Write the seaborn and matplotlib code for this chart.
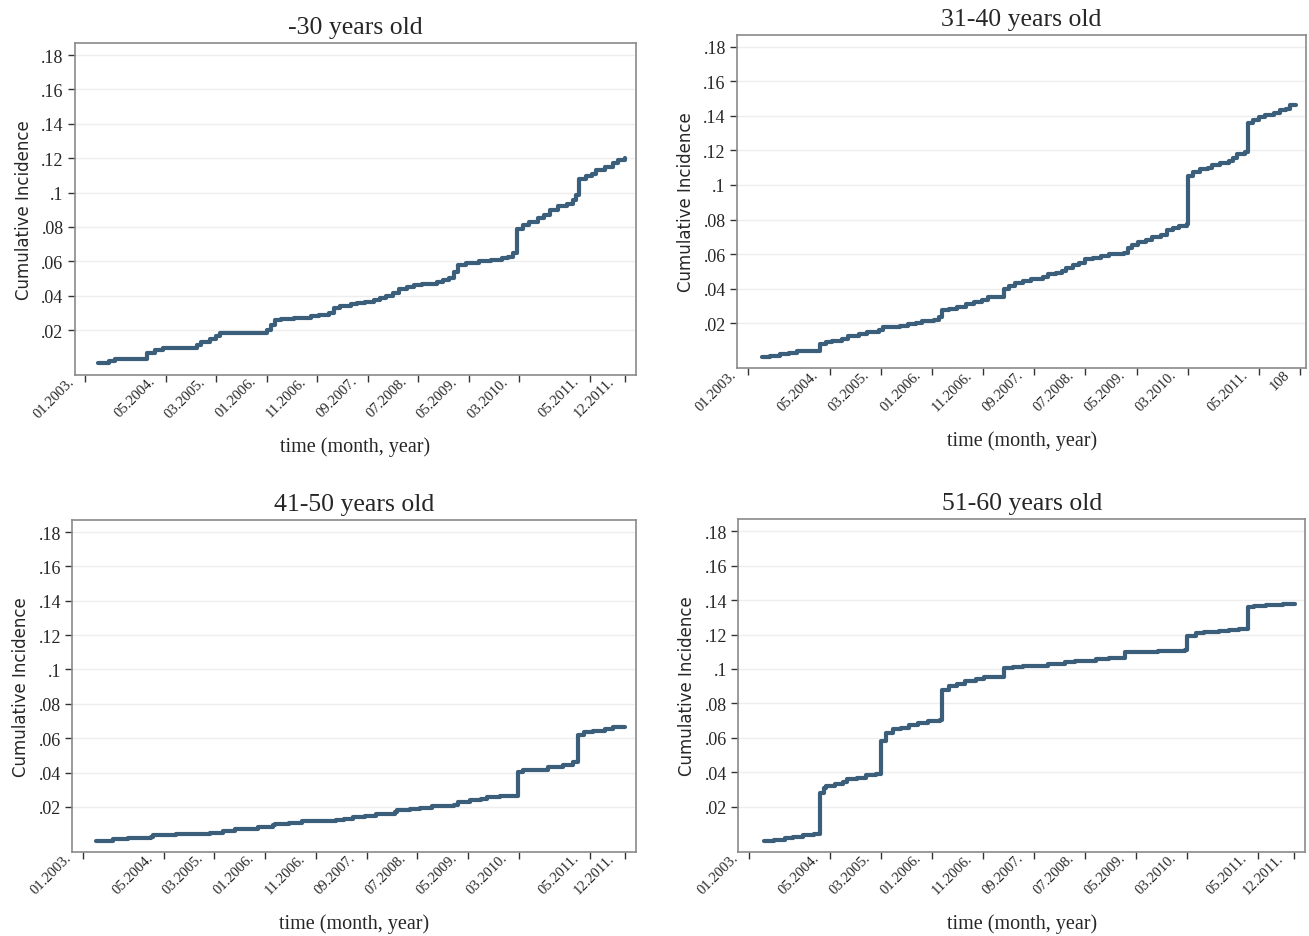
import matplotlib
matplotlib.use("Agg")
import matplotlib.pyplot as plt
import matplotlib.transforms as mtransforms
import seaborn as sns
import pandas as pd
import numpy as np

# months since 01.2003
tick_months = [0, 16, 26, 36, 46, 56, 66, 76, 86, 100, 107]
tick_labels = ["01.2003.", "05.2004.", "03.2005.", "01.2006.", "11.2006.", "09.2007.",
               "07.2008.", "05.2009.", "03.2010.", "05.2011.", "12.2011."]
tick_months_b = [0, 16, 26, 36, 46, 56, 66, 76, 86, 100, 108]
tick_labels_b = ["01.2003.", "05.2004.", "03.2005.", "01.2006.", "11.2006.", "09.2007.",
                 "07.2008.", "05.2009.", "03.2010.", "05.2011.", "108"]
y_ticks = [0.02, 0.04, 0.06, 0.08, 0.10, 0.12, 0.14, 0.16, 0.18]
y_labels = [".02", ".04", ".06", ".08", ".1", ".12", ".14", ".16", ".18"]

# -30 years old
t_30 = [2.6, 4.7, 5.9, 8.0, 12.2, 13.8, 15.5, 21.3, 22.2, 23.0, 24.7, 25.9, 26.75,
        33.8, 36.0, 36.75, 37.6, 38.8, 41.3, 44.7, 46.3, 48.4, 49.25, 50.5, 52.6, 53.8,
        55.5, 57.2, 58.4, 59.7, 61.0, 62.2, 63.8, 65.1, 66.75, 69.7, 70.9, 72.2, 73.0,
        73.8, 75.5, 78.0, 80.5, 82.6, 83.8, 84.7, 85.5, 86.75, 88.0, 89.7, 90.9, 92.2,
        93.8, 95.5, 96.75, 97.2, 97.8, 99.25, 100.5, 101.3, 103.0, 104.7, 105.5, 106.9]
ci_30 = [0.001, 0.002, 0.003, 0.0034, 0.0067, 0.0086, 0.0096, 0.0096, 0.0115, 0.013,
         0.015, 0.0163, 0.018, 0.018, 0.0202, 0.023, 0.026, 0.0266, 0.0273, 0.028,
         0.029, 0.030, 0.033, 0.034, 0.035, 0.036, 0.0366, 0.0376, 0.0386, 0.040,
         0.0415, 0.044, 0.045, 0.046, 0.047, 0.048, 0.049, 0.0505, 0.0536, 0.058,
         0.059, 0.060, 0.061, 0.0617, 0.0627, 0.0646, 0.079, 0.081, 0.083, 0.085,
         0.087, 0.090, 0.092, 0.0936, 0.0956, 0.0985, 0.108, 0.1095, 0.111, 0.113,
         0.115, 0.117, 0.1188, 0.120]

# 31-40 years old
t_40 = [2.8, 4.4, 6.4, 8.0, 9.6, 14.1, 15.3, 16.5, 18.5, 19.7, 21.7, 23.3, 25.7, 26.5,
        29.7, 31.3, 32.9, 34.1, 36.5, 37.3, 37.9, 39.4, 41.0, 42.6, 44.2, 45.8, 47.0,
        50.0, 51.0, 52.2, 53.8, 55.4, 57.8, 58.6, 60.2, 61.4, 62.2, 63.5, 64.7, 65.9,
        67.5, 69.1, 70.7, 73.5, 74.3, 75.1, 76.3, 77.9, 79.1, 80.7, 81.9, 83.1, 84.3,
        85.9, 86.1, 87.1, 88.4, 90.0, 90.8, 92.4, 94.0, 94.8, 95.6, 97.2, 97.8, 98.8,
        100.0, 101.2, 102.8, 104.0, 105.2, 106.0, 107.2]
ci_40 = [0.0005, 0.001, 0.0024, 0.003, 0.0039, 0.0077, 0.0092, 0.010, 0.0109, 0.0124,
         0.0137, 0.0149, 0.0162, 0.0177, 0.0185, 0.0194, 0.0204, 0.0213, 0.0219, 0.0238,
         0.0275, 0.0285, 0.0295, 0.0313, 0.0323, 0.0333, 0.0351, 0.0399, 0.0418, 0.0433,
         0.0446, 0.0456, 0.0465, 0.0484, 0.0493, 0.0503, 0.0522, 0.0535, 0.055, 0.057,
         0.0579, 0.0588, 0.0598, 0.0607, 0.0635, 0.0654, 0.0668, 0.0683, 0.0698, 0.0711,
         0.074, 0.0749, 0.0762, 0.0777, 0.1052, 0.1077, 0.109, 0.1099, 0.1114, 0.1128,
         0.1137, 0.1156, 0.1179, 0.119, 0.136, 0.1374, 0.1393, 0.1406, 0.1416, 0.1431,
         0.144, 0.1463, 0.1463]

# 41-50 years old
t_50 = [2.7, 6.0, 8.9, 13.4, 13.9, 18.4, 25.1, 27.6, 30.0, 33.4, 34.6, 37.5, 37.9, 40.8,
        43.3, 50.0, 51.6, 53.3, 55.8, 57.8, 61.6, 62.0, 64.5, 66.6, 69.0, 73.2, 74.0,
        76.5, 78.6, 79.8, 82.3, 85.8, 86.9, 89.4, 91.9, 94.8, 96.8, 97.7, 98.9, 100.6,
        103.0, 104.7, 107.0]
ci_50 = [0.0001, 0.0013, 0.002, 0.0028, 0.0036, 0.0045, 0.0051, 0.0061, 0.0069, 0.0074,
         0.0084, 0.0094, 0.0103, 0.0109, 0.0117, 0.0123, 0.0132, 0.014, 0.0148, 0.0159,
         0.0169, 0.018, 0.0188, 0.0194, 0.0206, 0.0214, 0.0229, 0.0239, 0.0248, 0.0258,
         0.0264, 0.0403, 0.0413, 0.0418, 0.0432, 0.0445, 0.0461, 0.0621, 0.0635, 0.0644,
         0.0654, 0.0664, 0.0667]

# 51-60 years old
t_60 = [3.0, 5.0, 7.1, 8.7, 10.7, 12.8, 14.0, 14.7, 15.2, 16.9, 18.5, 19.3, 21.3, 23.0,
        25.0, 25.9, 27.0, 28.3, 29.9, 31.5, 33.1, 35.2, 37.6, 38.0, 39.3, 40.9, 42.5,
        44.5, 46.2, 50.0, 51.9, 53.9, 58.8, 62.0, 64.1, 68.2, 70.6, 73.9, 76.3, 80.4,
        85.7, 86.0, 87.7, 89.3, 92.2, 94.2, 96.3, 97.9, 99.1, 101.5, 104.8, 107.2]
ci_60 = [0.0004, 0.0009, 0.0017, 0.0027, 0.0038, 0.0042, 0.0283, 0.0312, 0.0321, 0.0331,
         0.0344, 0.036, 0.037, 0.0383, 0.0393, 0.058, 0.0629, 0.0649, 0.0658, 0.0677,
         0.0687, 0.0697, 0.0703, 0.088, 0.0899, 0.0912, 0.0928, 0.0941, 0.0953, 0.1005,
         0.101, 0.102, 0.1026, 0.104, 0.1049, 0.1057, 0.1061, 0.1096, 0.1101, 0.1105,
         0.111, 0.1193, 0.1207, 0.1213, 0.1218, 0.1226, 0.1234, 0.1361, 0.1365, 0.1373,
         0.1379, 0.1379]

sns.set_theme(style="white")
plt.rcParams["font.family"] = ["Liberation Serif", "DejaVu Serif"]

line_color = "#3b5e7a"
fig = plt.figure(figsize=(13.09, 9.37), dpi=100)

panels = [
    ("-30 years old", t_30, ci_30, [0.057, 0.599, 0.429, 0.354], tick_months, tick_labels),
    ("31-40 years old", t_40, ci_40, [0.563, 0.606, 0.435, 0.356], tick_months_b, tick_labels_b),
    ("41-50 years old", t_50, ci_50, [0.055, 0.090, 0.431, 0.354], tick_months, tick_labels),
    ("51-60 years old", t_60, ci_60, [0.564, 0.090, 0.433, 0.355], tick_months, tick_labels),
]

# stata puts the rotated label end just left of the tick
shift = mtransforms.ScaledTranslation(-13 / 100, 7 / 100, fig.dpi_scale_trans)

for title, t, ci, pos, xt, xl in panels:
    ax = fig.add_axes(pos)
    df = pd.DataFrame({"month": t, "ci": ci})
    sns.lineplot(data=df, x="month", y="ci", ax=ax, color=line_color,
                 linewidth=3.0, drawstyle="steps-post", solid_capstyle="round")
    ax.set_xlim(-2.1, 109.2)
    ax.set_ylim(-0.006, 0.187)
    ax.set_yticks(y_ticks)
    ax.set_yticklabels(y_labels, fontsize=13)
    ax.set_xticks(xt)
    ax.set_xticklabels(xl, rotation=45, ha="right", va="center", rotation_mode="anchor",
                       fontsize=10.5)
    ax.tick_params(axis="both", direction="out", length=5, width=1, color="#333333",
                   bottom=True, left=True, pad=3)
    # after tick_params, which resets the label transforms
    for lab in ax.xaxis.get_majorticklabels():
        lab.set_transform(lab.get_transform() + shift)
    for yv in y_ticks:
        ax.axhline(yv, color="#eeeeee", linewidth=1, zorder=0)
    for s in ax.spines.values():
        s.set_color("#8a8a8a")
        s.set_linewidth(1.2)
    ax.set_title(title, fontsize=18.5, pad=7)
    ax.set_xlabel("time (month, year)", fontsize=14.5, labelpad=12)
    ax.set_ylabel("Cumulative Incidence", fontsize=12, family=["DejaVu Sans"], labelpad=6)

fig.savefig("out.png", dpi=100)
